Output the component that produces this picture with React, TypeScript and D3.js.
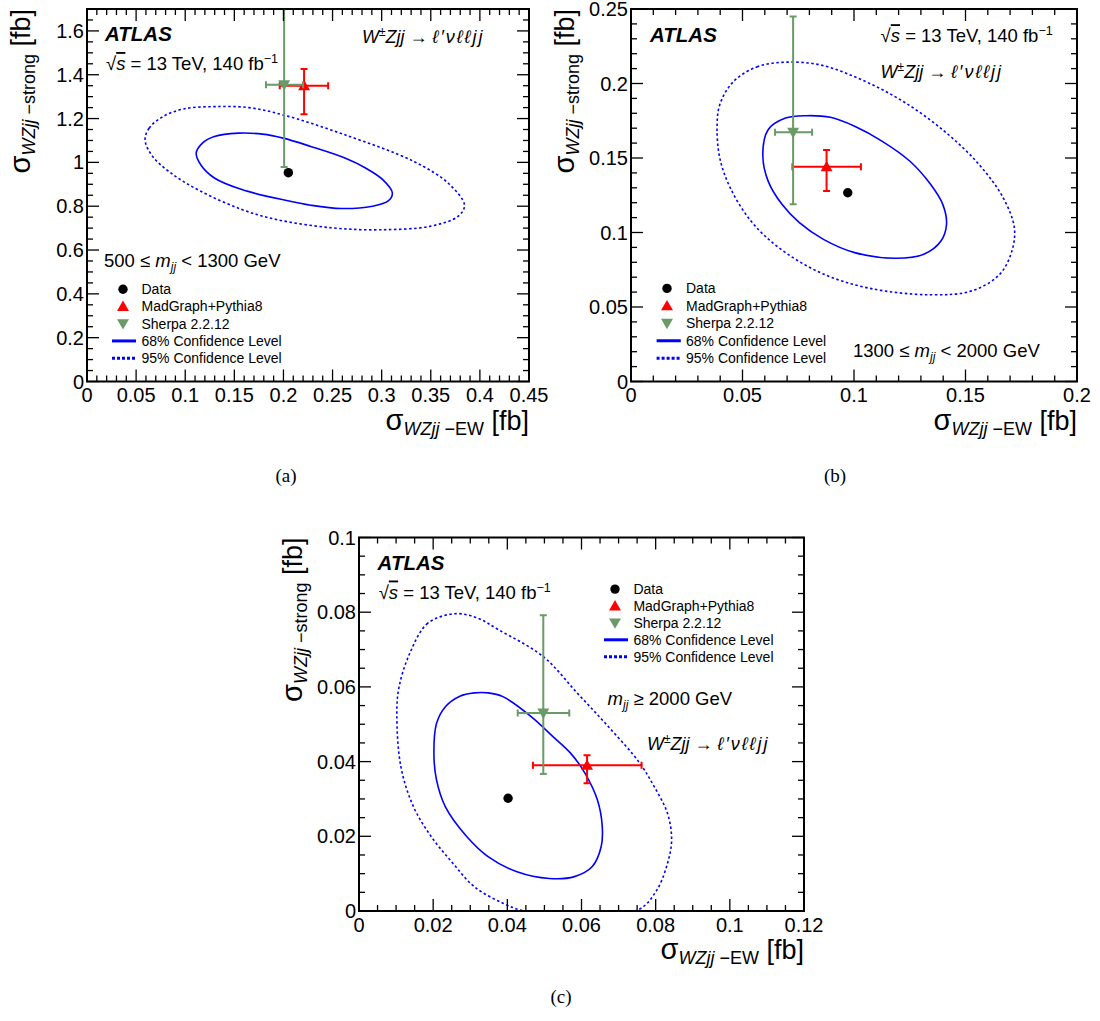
import React from "react";
import * as d3 from "d3";

const SANS = "'Liberation Sans', Arial, Helvetica, sans-serif";
const SERIF = "'Liberation Serif', 'Times New Roman', serif";

// ---------------- Panel (a): 500 <= mjj < 1300 GeV ----------------
const xTicksA = [0, 0.05, 0.1, 0.15, 0.2, 0.25, 0.3, 0.35, 0.4, 0.45];
const xTickLabelsA = ["0", "0.05", "0.1", "0.15", "0.2", "0.25", "0.3", "0.35", "0.4", "0.45"];
const yTicksA = [0, 0.2, 0.4, 0.6, 0.8, 1, 1.2, 1.4, 1.6];
const yTickLabelsA = ["0", "0.2", "0.4", "0.6", "0.8", "1", "1.2", "1.4", "1.6"];
const dataA = { x: 0.205, y: 0.953 };
const madgraphA = { x: 0.221, y: 1.35, xLo: 0.1962, xHi: 0.2455, yLo: 1.2197, yHi: 1.4258 };
const sherpaA = { x: 0.2007, y: 1.3545, xLo: 0.1822, xHi: 0.22, yLo: 0.979, yHi: 1.8 };
const cl68A: [number, number][] = [
  [0.1112, 1.0424], [0.1175, 1.0879], [0.1297, 1.1182], [0.1542, 1.1333], [0.1787, 1.1288],
  [0.1997, 1.1106], [0.2277, 1.0727], [0.2626, 1.0197], [0.2836, 0.9742], [0.3011, 0.9212],
  [0.3109, 0.8606], [0.3063, 0.8227], [0.2906, 0.8], [0.2591, 0.7894], [0.2277, 0.8045],
  [0.2032, 0.8258], [0.1577, 0.8758], [0.1297, 0.9288], [0.1158, 0.9894],
];
const cl95A: [number, number][] = [
  [0.0591, 1.103], [0.0633, 1.156], [0.0773, 1.209], [0.0983, 1.244], [0.1297, 1.2545],
  [0.1647, 1.25], [0.1997, 1.2167], [0.2626, 1.1258], [0.3326, 1.0045], [0.3675, 0.906],
  [0.3843, 0.8045], [0.378, 0.7545], [0.35, 0.709], [0.2976, 0.6924], [0.2486, 0.7015],
  [0.1927, 0.7394], [0.1577, 0.7848], [0.1158, 0.8682], [0.0878, 0.944], [0.0668, 1.027],
];

// ---------------- Panel (b): 1300 <= mjj < 2000 GeV ----------------
const xTicksB = [0, 0.05, 0.1, 0.15, 0.2];
const xTickLabelsB = ["0", "0.05", "0.1", "0.15", "0.2"];
const yTicksB = [0, 0.05, 0.1, 0.15, 0.2, 0.25];
const yTickLabelsB = ["0", "0.05", "0.1", "0.15", "0.2", "0.25"];
const dataB = { x: 0.0972, y: 0.1267 };
const madgraphB = { x: 0.0877, y: 0.1441, xLo: 0.0724, xHi: 0.1031, yLo: 0.1278, yHi: 0.1554 };
const sherpaB = { x: 0.0727, y: 0.1673, xLo: 0.0646, xHi: 0.0812, yLo: 0.1189, yHi: 0.2449 };
const cl68B: [number, number][] = [
  [0.0786, 0.1784], [0.0693, 0.1768], [0.0615, 0.169], [0.0591, 0.1523], [0.0615, 0.1345],
  [0.0677, 0.1189], [0.0755, 0.1066], [0.0863, 0.0954], [0.1003, 0.0865], [0.1189, 0.0827],
  [0.1313, 0.0854], [0.139, 0.0943], [0.1415, 0.1055], [0.1398, 0.1189], [0.1344, 0.1322],
  [0.1251, 0.1478], [0.1127, 0.1612], [0.1003, 0.1713], [0.0894, 0.1773],
];
const cl95B: [number, number][] = [
  [0.0693, 0.2143], [0.0569, 0.2114], [0.046, 0.2014], [0.0398, 0.1858], [0.0386, 0.1701],
  [0.0398, 0.1501], [0.0445, 0.13], [0.0538, 0.1077], [0.0662, 0.0899], [0.0848, 0.0731],
  [0.1065, 0.0627], [0.1344, 0.0582], [0.153, 0.0609], [0.1654, 0.072], [0.1708, 0.0876],
  [0.1719, 0.1032], [0.1669, 0.1233], [0.1561, 0.1456], [0.1406, 0.1679], [0.122, 0.188],
  [0.1034, 0.2025], [0.0848, 0.2125],
];

// ---------------- Panel (c): mjj >= 2000 GeV ----------------
const xTicksC = [0, 0.02, 0.04, 0.06, 0.08, 0.1, 0.12];
const xTickLabelsC = ["0", "0.02", "0.04", "0.06", "0.08", "0.1", "0.12"];
const yTicksC = [0, 0.02, 0.04, 0.06, 0.08, 0.1];
const yTickLabelsC = ["0", "0.02", "0.04", "0.06", "0.08", "0.1"];
const dataC = { x: 0.0402, y: 0.0302 };
const madgraphC = { x: 0.0615, y: 0.039, xLo: 0.0469, xHi: 0.0762, yLo: 0.0342, yHi: 0.0417 };
const sherpaC = { x: 0.0497, y: 0.053, xLo: 0.0428, xHi: 0.0567, yLo: 0.0367, yHi: 0.0792 };
const cl68C: [number, number][] = [
  [0.0311, 0.0584], [0.0272, 0.0575], [0.0233, 0.0547], [0.0209, 0.0502], [0.0202, 0.0422],
  [0.0209, 0.0351], [0.0233, 0.0279], [0.0291, 0.0199], [0.0349, 0.0145], [0.0426, 0.0105],
  [0.0513, 0.0087], [0.0581, 0.0092], [0.0629, 0.0119], [0.0653, 0.0172], [0.0656, 0.0226],
  [0.0643, 0.0297], [0.061, 0.0368], [0.0571, 0.0422], [0.0523, 0.0467], [0.0465, 0.052],
  [0.0388, 0.0574], [0.0349, 0.0584],
];
const cl95C: [number, number][] = [
  [0.0258, 0.0796], [0.0185, 0.077], [0.0137, 0.069], [0.0108, 0.06], [0.0102, 0.0529],
  [0.0113, 0.0386], [0.0147, 0.0279], [0.0195, 0.0199], [0.0253, 0.0128], [0.0311, 0.0065],
  [0.0388, 0.0021], [0.0455, -0.0002], [0.06, -0.0006], [0.0754, 0.0004], [0.0803, 0.0056],
  [0.0832, 0.0128], [0.0843, 0.019], [0.0832, 0.0261], [0.0795, 0.0335], [0.0754, 0.04],
  [0.0672, 0.0494], [0.0589, 0.0583], [0.0497, 0.0681], [0.0378, 0.0752], [0.0318, 0.0785],
];

const legendLabels = ["Data", "MadGraph+Pythia8", "Sherpa 2.2.12", "68% Confidence Level", "95% Confidence Level"];
const captions = ["(a)", "(b)", "(c)"];

const RED = "#ff0000";
const GREEN = "#6a9a68";
const BLUE = "#0000ff";

type Pt = { x: number; y: number; xLo: number; xHi: number; yLo: number; yHi: number };

const triUp = d3.symbol().type(d3.symbolTriangle).size(62)() as string;

function Marker({ kind, x, y }: { kind: string; x: number; y: number }) {
  if (kind === "data") return <circle cx={x} cy={y} r={4.7} fill="#000" />;
  if (kind === "mg") return <path d={triUp} transform={`translate(${x},${y + 1})`} fill={RED} />;
  return <path d={triUp} transform={`translate(${x},${y - 1}) rotate(180)`} fill={GREEN} />;
}

function ErrPoint({ p, xs, ys, color, kind }: { p: Pt; xs: any; ys: any; color: string; kind: string }) {
  const cx = xs(p.x), cy = ys(p.y);
  const c = 3.5;
  return (
    <g stroke={color} strokeWidth={2} fill="none">
      <line x1={xs(p.xLo)} x2={xs(p.xHi)} y1={cy} y2={cy} />
      <line x1={cx} x2={cx} y1={ys(p.yLo)} y2={ys(p.yHi)} />
      <line x1={xs(p.xLo)} x2={xs(p.xLo)} y1={cy - c} y2={cy + c} />
      <line x1={xs(p.xHi)} x2={xs(p.xHi)} y1={cy - c} y2={cy + c} />
      <line x1={cx - c} x2={cx + c} y1={ys(p.yLo)} y2={ys(p.yLo)} />
      <line x1={cx - c} x2={cx + c} y1={ys(p.yHi)} y2={ys(p.yHi)} />
      <g stroke="none">
        <Marker kind={kind} x={cx} y={cy} />
      </g>
    </g>
  );
}

function Legend({ mx, tx, lx1, lx2, y0, dy }: { mx: number; tx: number; lx1: number; lx2: number; y0: number; dy: number }) {
  return (
    <g fontFamily={SANS} fontSize={14}>
      {legendLabels.map((lab, i) => {
        const by = y0 + i * dy;
        const my = by - 5;
        let sym: any = null;
        if (i === 0) sym = <Marker kind="data" x={mx} y={my} />;
        else if (i === 1) sym = <Marker kind="mg" x={mx} y={my} />;
        else if (i === 2) sym = <Marker kind="sh" x={mx} y={my} />;
        else if (i === 3) sym = <line x1={lx1} x2={lx2} y1={my} y2={my} stroke={BLUE} strokeWidth={3} />;
        else sym = <line x1={lx1} x2={lx2} y1={my} y2={my} stroke={BLUE} strokeWidth={3} strokeDasharray="3 2" />;
        return (
          <g key={lab}>
            {sym}
            <text x={tx} y={by}>{lab}</text>
          </g>
        );
      })}
    </g>
  );
}

function SqrtS({ x, y }: { x: number; y: number }) {
  return (
    <text x={x} y={y} fontFamily={SANS} fontSize={18.5}>
      <tspan>√</tspan>
      <tspan fontStyle="italic" style={{ textDecoration: "overline" }}>s</tspan>
      <tspan> = 13 TeV, 140 fb</tspan>
      <tspan fontSize={12.5} dy={-7}>−1</tspan>
    </text>
  );
}

function Process({ x, y }: { x: number; y: number }) {
  return (
    <text x={x} y={y} fontFamily={SANS} fontSize={18}>
      <tspan fontStyle="italic">W</tspan>
      <tspan fontSize={12} dy={-7}>±</tspan>
      <tspan fontStyle="italic" dy={7}>Zjj</tspan>
      <tspan> → </tspan>
      <tspan fontStyle="italic" letterSpacing={2}>ℓ′νℓℓjj</tspan>
    </text>
  );
}

function Mjj({ x, y, pre, post }: { x: number; y: number; pre: string; post: string }) {
  return (
    <text x={x} y={y} fontFamily={SANS} fontSize={18.5}>
      <tspan>{pre}</tspan>
      <tspan fontStyle="italic">m</tspan>
      <tspan fontStyle="italic" fontSize={12} dy={4}>jj</tspan>
      <tspan dy={-4}>{post}</tspan>
    </text>
  );
}

function Atlas({ x, y }: { x: number; y: number }) {
  return (
    <text x={x} y={y} fontFamily={SANS} fontSize={20.5} fontWeight="bold" fontStyle="italic">ATLAS</text>
  );
}

type PanelProps = {
  id: string;
  L: number; T: number; W: number; H: number;
  xMax: number; yMax: number; xMinor: number; yMinor: number;
  xTicks: number[]; xLabels: string[]; yTicks: number[]; yLabels: string[];
  data: { x: number; y: number }; mg: Pt; sh: Pt;
  c68: [number, number][]; c95: [number, number][];
  children?: any;
};

function Panel(p: PanelProps) {
  const xs = d3.scaleLinear().domain([0, p.xMax]).range([p.L, p.L + p.W]);
  const ys = d3.scaleLinear().domain([0, p.yMax]).range([p.T + p.H, p.T]);
  const line = d3
    .line<[number, number]>()
    .x((d) => xs(d[0]))
    .y((d) => ys(d[1]))
    .curve(d3.curveCatmullRomClosed.alpha(0.5));
  const xMinorTicks = d3.range(0, p.xMax + p.xMinor / 2, p.xMinor);
  const yMinorTicks = d3.range(0, p.yMax + p.yMinor / 2, p.yMinor);
  const B = p.T + p.H, R = p.L + p.W;
  const MAJ = 12, MIN = 6;
  return (
    <g>
      <defs>
        <clipPath id={`clip-${p.id}`}>
          <rect x={p.L} y={p.T} width={p.W} height={p.H} />
        </clipPath>
      </defs>
      <g clipPath={`url(#clip-${p.id})`}>
        <path d={line(p.c95) as string} fill="none" stroke={BLUE} strokeWidth={1.6} strokeDasharray="2.5 2.5" />
        <path d={line(p.c68) as string} fill="none" stroke={BLUE} strokeWidth={1.6} />
        <ErrPoint p={p.mg} xs={xs} ys={ys} color={RED} kind="mg" />
        <ErrPoint p={p.sh} xs={xs} ys={ys} color={GREEN} kind="sh" />
        <circle cx={xs(p.data.x)} cy={ys(p.data.y)} r={4.7} fill="#000" />
      </g>
      <g stroke="#000" strokeWidth={1.3}>
        {xMinorTicks.map((v, i) => {
          const major = p.xTicks.some((t) => Math.abs(t - v) < 1e-9);
          const len = major ? MAJ : MIN;
          return (
            <g key={`xt${i}`}>
              <line x1={xs(v)} x2={xs(v)} y1={B} y2={B - len} />
              <line x1={xs(v)} x2={xs(v)} y1={p.T} y2={p.T + len} />
            </g>
          );
        })}
        {yMinorTicks.map((v, i) => {
          const major = p.yTicks.some((t) => Math.abs(t - v) < 1e-9);
          const len = major ? MAJ : MIN;
          return (
            <g key={`yt${i}`}>
              <line x1={p.L} x2={p.L + len} y1={ys(v)} y2={ys(v)} />
              <line x1={R} x2={R - len} y1={ys(v)} y2={ys(v)} />
            </g>
          );
        })}
      </g>
      <rect x={p.L} y={p.T} width={p.W} height={p.H} fill="none" stroke="#000" strokeWidth={2} />
      <g fontFamily={SANS} fontSize={20}>
        {p.xTicks.map((v, i) => (
          <text key={`xl${i}`} x={xs(v)} y={B + 20.5} textAnchor="middle">{p.xLabels[i]}</text>
        ))}
        {p.yTicks.map((v, i) => (
          <text key={`yl${i}`} x={p.L - 3} y={ys(v) + 7} textAnchor="end">{p.yLabels[i]}</text>
        ))}
      </g>
      <text x={R} y={B + 48} textAnchor="end" fontFamily={SANS} fontSize={27}>
        <tspan fontSize={29}>σ</tspan>
        <tspan fontSize={18} dy={5}>
          <tspan fontStyle="italic">WZjj</tspan>
          <tspan> −EW</tspan>
        </tspan>
        <tspan dy={-5}> [fb]</tspan>
      </text>
      <text transform={`translate(${p.L - 57},${p.T}) rotate(-90)`} textAnchor="end" fontFamily={SANS} fontSize={27}>
        <tspan fontSize={29}>σ</tspan>
        <tspan fontSize={18} dy={5}>
          <tspan fontStyle="italic">WZjj</tspan>
          <tspan> −strong</tspan>
        </tspan>
        <tspan dy={-5}> [fb]</tspan>
      </text>
      {p.children}
    </g>
  );
}

export default function App() {
  return (
    <svg
      width={1100}
      height={1021}
      viewBox="0 0 1100 1021"
      style={{ position: "absolute", left: 0, top: 0, background: "#fff" }}
    >
      <rect x={0} y={0} width={1100} height={1021} fill="#fff" />
      <Panel
        id="a" L={87} T={9} W={442} H={372.5} xMax={0.45} yMax={1.7} xMinor={0.01} yMinor={0.05}
        xTicks={xTicksA} xLabels={xTickLabelsA} yTicks={yTicksA} yLabels={yTickLabelsA}
        data={dataA} mg={madgraphA} sh={sherpaA} c68={cl68A} c95={cl95A}
      >
        <Atlas x={105} y={41} />
        <SqrtS x={106} y={70} />
        <Process x={362} y={42.5} />
        <Mjj x={104} y={267} pre="500 ≤ " post=" < 1300 GeV" />
        <Legend mx={123} tx={141.5} lx1={112} lx2={136} y0={294.2} dy={17.25} />
      </Panel>
      <Panel
        id="b" L={631} T={9} W={446} H={372.5} xMax={0.2} yMax={0.25} xMinor={0.01} yMinor={0.01}
        xTicks={xTicksB} xLabels={xTickLabelsB} yTicks={yTicksB} yLabels={yTickLabelsB}
        data={dataB} mg={madgraphB} sh={sherpaB} c68={cl68B} c95={cl95B}
      >
        <Atlas x={650} y={41.6} />
        <SqrtS x={880.6} y={42.2} />
        <Process x={880.6} y={78} />
        <Mjj x={853} y={357} pre="1300 ≤ " post=" < 2000 GeV" />
        <Legend mx={667} tx={686} lx1={656.6} lx2={680.8} y0={293.4} dy={17.45} />
      </Panel>
      <Panel
        id="c" L={359} T={537.5} W={445} H={373.5} xMax={0.12} yMax={0.1} xMinor={0.005} yMinor={0.005}
        xTicks={xTicksC} xLabels={xTickLabelsC} yTicks={yTicksC} yLabels={yTickLabelsC}
        data={dataC} mg={madgraphC} sh={sherpaC} c68={cl68C} c95={cl95C}
      >
        <Atlas x={377.6} y={570} />
        <SqrtS x={378.7} y={598.5} />
        <Legend mx={615} tx={633.4} lx1={604} lx2={628} y0={594.1} dy={16.9} />
        <Mjj x={607.6} y={705} pre="" post=" ≥ 2000 GeV" />
        <Process x={647} y={750} />
      </Panel>
      <g fontFamily={SERIF} fontSize={19} textAnchor="middle">
        <text x={286} y={482}>{captions[0]}</text>
        <text x={835} y={482}>{captions[1]}</text>
        <text x={561} y={1003}>{captions[2]}</text>
      </g>
    </svg>
  );
}
